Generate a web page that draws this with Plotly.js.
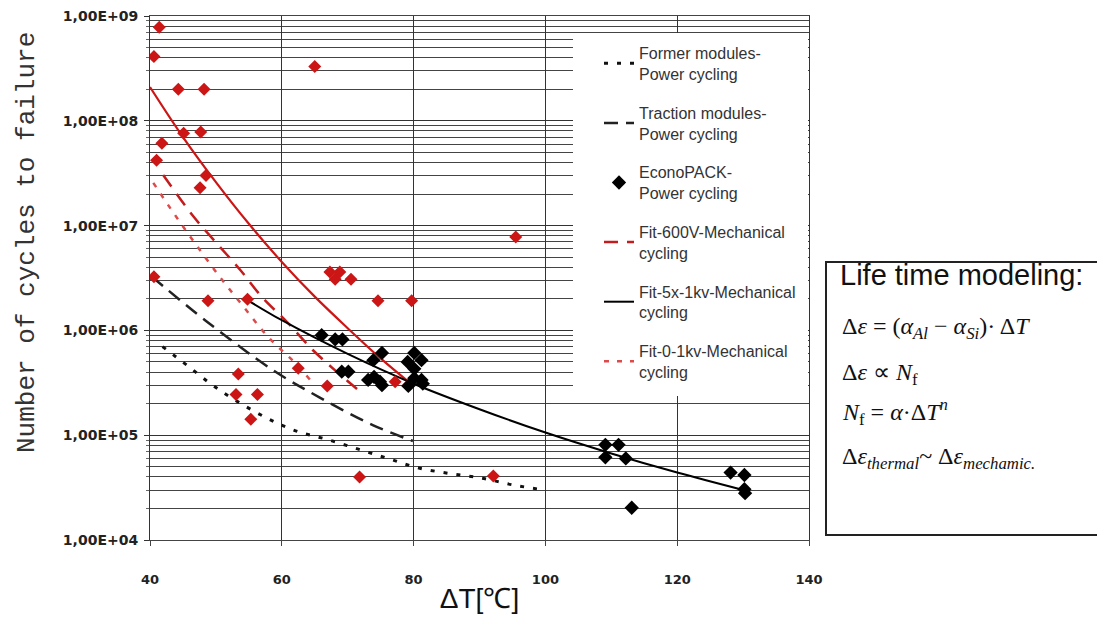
<!DOCTYPE html>
<html>
<head>
<meta charset="utf-8">
<script src="https://cdn.plot.ly/plotly-3.0.1.min.js"></script>
<style>html,body{margin:0;padding:0;background:#fff;}#chart{width:1097px;height:626px;}</style>
</head>
<body>
<div id="chart"></div>
<script>
// ---- tick labels ----
const yTickVals = [1e4, 1e5, 1e6, 1e7, 1e8, 1e9];
const yTickText = ['1,00E+04', '1,00E+05', '1,00E+06', '1,00E+07', '1,00E+08', '1,00E+09'];
const xTickVals = [40, 60, 80, 100, 120, 140];

// ---- legend names ----
const nameFormer = 'Former modules-<br>Power cycling';
const nameTraction = 'Traction modules-<br>Power cycling';
const nameEcono = 'EconoPACK-<br>Power cycling';
const nameFit600 = 'Fit-600V-Mechanical<br>cycling';
const nameFit5x = 'Fit-5x-1kv-Mechanical<br>cycling';
const nameFit01 = 'Fit-0-1kv-Mechanical<br>cycling';

// ---- curves ----
const formerX = [41.9, 45.7, 49.5, 53.3, 57.8, 62.1, 66.9, 71.5, 76.1, 80.6, 85.5, 90.3, 95.1, 99.9];
const formerY = [7.0e5, 4.6e5, 3.0e5, 2.09e5, 1.45e5, 1.10e5, 9.1e4, 7.4e4, 6.0e4, 4.9e4, 4.3e4, 3.9e4, 3.35e4, 3.0e4];

const tractionX = [40.3, 48.5, 58.6, 65.7, 73.8, 79.9];
const tractionY = [3.25e6, 1.23e6, 4.2e5, 2.3e5, 1.25e5, 8.8e4];

const fit600X = [42.0, 46.6, 50.1, 53.7, 57.0, 60.8, 64.7, 68.4, 71.9];
const fit600Y = [3.04e7, 1.22e7, 6.8e6, 3.77e6, 2.08e6, 1.2e6, 6.5e5, 4.0e5, 2.6e5];

const fit5xX = [54.6, 60, 70, 80, 90, 100, 110, 120, 130];
const fit5xY = [1.98e6, 1.25e6, 5.96e5, 3.1e5, 1.77e5, 1.06e5, 6.7e4, 4.4e4, 3.0e4];

const fit01X = [40.5, 43.8, 47.2, 50.6, 54.2, 57.9, 62.3, 64.3];
const fit01Y = [2.56e7, 1.26e7, 6.3e6, 3.24e6, 1.68e6, 8.7e5, 4.7e5, 3.37e5];

const redFitX = [40, 45, 50, 55, 60, 65, 70, 75, 80];
const redFitY = [2.1e8, 7.0e7, 2.6e7, 1.04e7, 4.5e6, 2.1e6, 1.05e6, 5.4e5, 2.95e5];

// ---- measured points ----
const redPtsX = [41.4, 40.6, 65.0, 44.3, 48.2, 45.1, 47.7, 41.8, 41.0, 48.5, 47.6, 95.5, 40.6, 67.3, 68.8, 68.1, 70.5,
  48.8, 54.8, 74.6, 79.7, 53.4, 62.5, 66.9, 77.2, 79.2, 53.05, 56.3, 55.3, 71.8, 92.1];
const redPtsY = [7.8e8, 4.1e8, 3.3e8, 2.0e8, 2.0e8, 7.6e7, 7.8e7, 6.1e7, 4.2e7, 3.0e7, 2.3e7, 7.8e6, 3.25e6, 3.6e6, 3.6e6, 3.08e6, 3.08e6,
  1.92e6, 1.98e6, 1.92e6, 1.92e6, 3.84e5, 4.35e5, 2.95e5, 3.24e5, 3.0e5, 2.45e5, 2.45e5, 1.42e5, 4.0e4, 4.07e4];

const econoX = [66.05, 68.1, 69.2, 69.1, 70.1, 75.2, 73.9, 73.1, 74.0, 74.9, 75.2, 80.1, 79.1, 81.2, 80.1, 80.1, 81.2, 81.4, 79.2,
  109.1, 111.1, 109.1, 112.2, 113.1, 128.1, 130.2, 130.2, 130.3];
const econoY = [9.0e5, 8.2e5, 8.2e5, 4.04e5, 4.04e5, 6.1e5, 5.2e5, 3.37e5, 3.6e5, 3.24e5, 3.0e5, 6.1e5, 5.0e5, 5.2e5, 4.3e5, 3.5e5, 3.37e5, 3.1e5, 2.95e5,
  8.1e4, 8.1e4, 6.15e4, 6.0e4, 2.03e4, 4.4e4, 4.17e4, 3.05e4, 2.8e4];

const RED = '#cc1616';

const traces = [
  {x: redFitX, y: redFitY, mode: 'lines', line: {color: RED, width: 2.2, shape: 'spline'}, showlegend: false, hoverinfo: 'skip'},
  {x: formerX, y: formerY, name: nameFormer, legendrank: 1, legendgroup: 'a', mode: 'lines', line: {color: '#111', width: 3, dash: '4px,9px', shape: 'spline'}},
  {x: tractionX, y: tractionY, name: nameTraction, legendrank: 2, legendgroup: 'b', mode: 'lines', line: {color: '#222', width: 2.5, dash: '14px,8px', shape: 'spline'}},
  {x: fit600X, y: fit600Y, name: nameFit600, legendrank: 4, legendgroup: 'd', mode: 'lines', line: {color: '#c41c1c', width: 2.5, dash: '14px,9px', shape: 'spline'}},
  {x: fit01X, y: fit01Y, name: nameFit01, legendrank: 6, legendgroup: 'f', mode: 'lines', line: {color: '#dd4a4a', width: 2.5, dash: '5px,8px', shape: 'spline'}},
  {x: fit5xX, y: fit5xY, name: nameFit5x, legendrank: 5, legendgroup: 'e', mode: 'lines', line: {color: '#000', width: 2, shape: 'spline'}},
  {x: redPtsX, y: redPtsY, mode: 'markers', marker: {symbol: 'diamond', size: 10, color: RED}, showlegend: false},
  {x: econoX, y: econoY, name: nameEcono, legendrank: 3, legendgroup: 'c', mode: 'markers', marker: {symbol: 'diamond', size: 11, color: '#000'}}
];

const PL = 150, PR = 809, PT = 16, PB = 540;
const W = PR - PL, H = PB - PT;
const px = v => (v - PL) / W;
const py = v => (PB - v) / H;

const formulaFont = {family: 'Liberation Serif, Times New Roman, serif', size: 24, color: '#111'};

const layout = {
  width: 1097, height: 626,
  margin: {l: PL, r: 1097 - PR, t: PT, b: 626 - PB},
  paper_bgcolor: '#fff', plot_bgcolor: '#fff',
  showlegend: true,
  legend: {
    x: px(599), y: py(36), xanchor: 'left', yanchor: 'top',
    bgcolor: 'rgba(255,255,255,0)', borderwidth: 0,
    font: {family: 'Liberation Sans Narrow, Liberation Sans, Arial, sans-serif', size: 16, color: '#333'},
    tracegroupgap: 15, itemwidth: 30, traceorder: 'grouped'
  },
  xaxis: {
    range: [40, 140], tickvals: xTickVals, ticktext: xTickVals.map(String),
    showgrid: true, gridcolor: '#333', gridwidth: 1,
    showline: true, linecolor: '#444', linewidth: 1, mirror: true,
    ticks: 'outside', ticklen: 5, tickcolor: '#444', ticklabelstandoff: 22,
    tickfont: {family: 'DejaVu Sans, sans-serif', size: 13, color: '#222', weight: 'bold'},
    zeroline: false,
    title: {text: 'ΔT[℃]', font: {family: 'Liberation Sans, Arial, sans-serif', size: 28, color: '#111'}, standoff: 2}
  },
  yaxis: {
    type: 'log', range: [4, 9], tickvals: yTickVals, ticktext: yTickText,
    showgrid: true, gridcolor: '#333', gridwidth: 1,
    minor: {dtick: 'D1', showgrid: true, gridcolor: '#444', gridwidth: 1, ticks: 'outside', ticklen: 3, tickcolor: '#666'},
    showline: true, linecolor: '#333', linewidth: 1, mirror: true,
    ticks: 'outside', ticklen: 5, tickcolor: '#333', ticklabelstandoff: 3,
    tickfont: {family: 'DejaVu Sans, sans-serif', size: 14, color: '#222', weight: 'bold'},
    zeroline: false
  },
  shapes: [
    {type: 'rect', xref: 'paper', yref: 'paper', x0: px(573), x1: px(808), y0: py(396), y1: py(33),
     fillcolor: '#fff', line: {width: 0}, layer: 'above'},
    {type: 'rect', xref: 'paper', yref: 'paper', x0: px(826), x1: px(1120), y0: py(535), y1: py(262),
     fillcolor: 'rgba(0,0,0,0)', line: {color: '#222', width: 2}}
  ],
  annotations: [
    {text: 'Number of cycles to failure', xref: 'paper', yref: 'paper', x: px(27), y: py(243),
     xanchor: 'center', yanchor: 'middle', textangle: -90, showarrow: false,
     font: {family: 'Liberation Mono, Courier New, monospace', size: 26, color: '#333'}},
    {text: 'Life time modeling:', xref: 'paper', yref: 'paper', x: px(838), y: py(275),
     xanchor: 'left', yanchor: 'middle', showarrow: false,
     font: {family: 'Liberation Sans, Arial, sans-serif', size: 29, color: '#111'}},
    {text: 'Δ<i>ε</i> = (<i>α</i><sub><i>Al</i></sub> − <i>α</i><sub><i>Si</i></sub>)· Δ<i>T</i>', xref: 'paper', yref: 'paper',
     x: px(840), y: py(328), xanchor: 'left', yanchor: 'middle', showarrow: false, font: formulaFont},
    {text: 'Δ<i>ε</i> ∝ <i>N</i><sub>f</sub>', xref: 'paper', yref: 'paper',
     x: px(840), y: py(374), xanchor: 'left', yanchor: 'middle', showarrow: false, font: formulaFont},
    {text: '<i>N</i><sub>f</sub> = <i>α</i>·Δ<i>T</i><sup><i>n</i></sup>', xref: 'paper', yref: 'paper',
     x: px(840), y: py(412), xanchor: 'left', yanchor: 'middle', showarrow: false, font: formulaFont},
    {text: 'Δ<i>ε</i><sub><i>thermal</i></sub>~ Δ<i>ε</i><sub><i>mechamic.</i></sub>', xref: 'paper', yref: 'paper',
     x: px(840), y: py(458), xanchor: 'left', yanchor: 'middle', showarrow: false, font: formulaFont}
  ]
};

Plotly.newPlot('chart', traces, layout, {displayModeBar: false, staticPlot: true});
</script>
</body>
</html>
